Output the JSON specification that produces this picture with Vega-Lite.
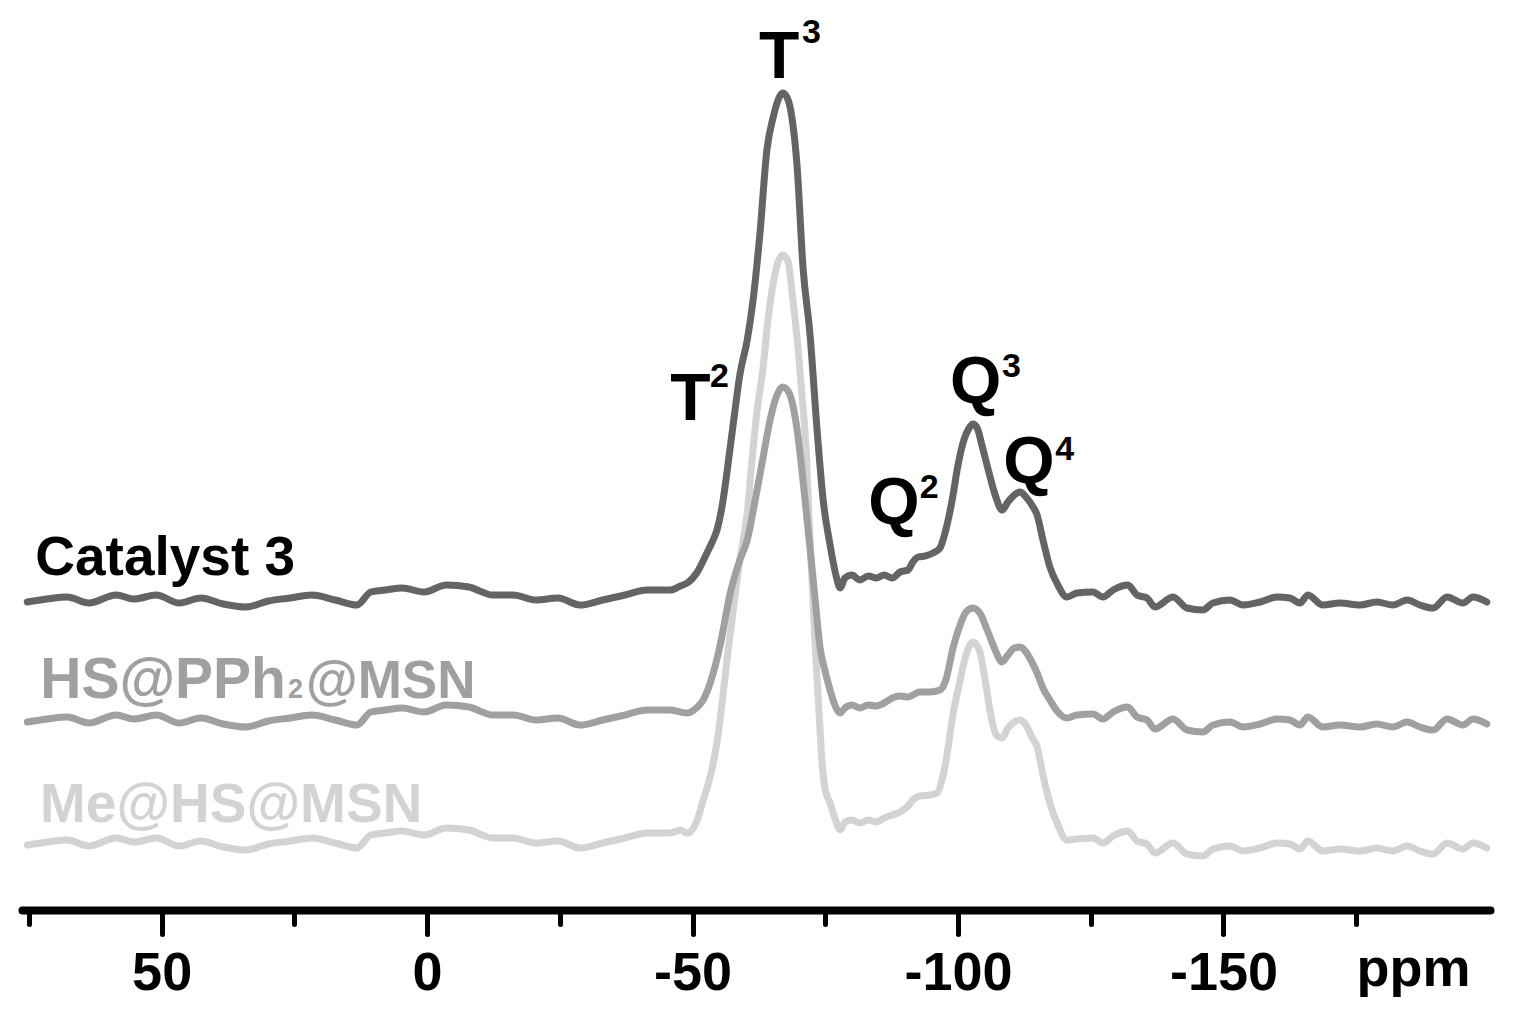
{
  "$schema": "https://vega.github.io/schema/vega-lite/v6.json",
  "width": 1468,
  "height": 910,
  "autosize": {"type": "none"},
  "padding": {"left": 22, "top": 0, "right": 24, "bottom": 122},
  "background": "white",
  "config": {"view": {"stroke": null}, "font": "Liberation Sans"},
  "datasets": {
    "cat": [
      {"ppm":75.3,"intensity":308},{"ppm":71.6,"intensity":311},{"ppm":67.8,"intensity":313},{"ppm":63.7,"intensity":307},{"ppm":58.6,"intensity":315},{"ppm":55.2,"intensity":311},{"ppm":51.0,"intensity":315},{"ppm":46.7,"intensity":307},{"ppm":42.6,"intensity":312},{"ppm":38.4,"intensity":306},{"ppm":34.1,"intensity":303},{"ppm":29.9,"intensity":309},{"ppm":25.8,"intensity":312},{"ppm":21.7,"intensity":315},{"ppm":17.3,"intensity":310},{"ppm":13.2,"intensity":305},{"ppm":10.6,"intensity":318},{"ppm":7.9,"intensity":320},{"ppm":4.7,"intensity":322},{"ppm":0.6,"intensity":318},{"ppm":-3.6,"intensity":325},{"ppm":-7.9,"intensity":323},{"ppm":-10.4,"intensity":318},{"ppm":-12.1,"intensity":315},{"ppm":-16.2,"intensity":315},{"ppm":-20.5,"intensity":310},{"ppm":-24.7,"intensity":312},{"ppm":-28.8,"intensity":305},{"ppm":-33.1,"intensity":310},{"ppm":-37.3,"intensity":315},{"ppm":-41.4,"intensity":320},{"ppm":-45.8,"intensity":320},
      {"ppm":-47.7,"intensity":324},{"ppm":-49.0,"intensity":327},{"ppm":-50.9,"intensity":338},{"ppm":-52.7,"intensity":357},{"ppm":-53.7,"intensity":368},{"ppm":-54.6,"intensity":380},{"ppm":-55.6,"intensity":405},{"ppm":-57.1,"intensity":463},{"ppm":-58.0,"intensity":500},{"ppm":-58.9,"intensity":535},{"ppm":-60.3,"intensity":570},{"ppm":-61.4,"intensity":610},{"ppm":-62.7,"intensity":677},{"ppm":-64.0,"intensity":760},{"ppm":-65.2,"intensity":793},{"ppm":-66.1,"intensity":810},{"ppm":-67.0,"intensity":817},{"ppm":-68.0,"intensity":810},{"ppm":-68.7,"intensity":793},{"ppm":-69.7,"intensity":743},{"ppm":-70.8,"intensity":643},{"ppm":-72.1,"intensity":577},{"ppm":-73.5,"intensity":477},{"ppm":-74.6,"intensity":410},{"ppm":-75.9,"intensity":365},{"ppm":-77.0,"intensity":335},{"ppm":-77.8,"intensity":322},{"ppm":-78.7,"intensity":332},{"ppm":-80.0,"intensity":335},{"ppm":-81.5,"intensity":330},{"ppm":-83.1,"intensity":334},{"ppm":-84.6,"intensity":332},{"ppm":-86.1,"intensity":335},{"ppm":-87.6,"intensity":332},{"ppm":-89.1,"intensity":338},{"ppm":-90.6,"intensity":340},{"ppm":-91.5,"intensity":348},{"ppm":-92.5,"intensity":353},{"ppm":-93.8,"intensity":354},{"ppm":-95.3,"intensity":357},{"ppm":-96.6,"intensity":362},{"ppm":-97.7,"intensity":380},{"ppm":-98.9,"intensity":410},{"ppm":-100.0,"intensity":445},{"ppm":-101.1,"intensity":470},{"ppm":-102.1,"intensity":482},{"ppm":-102.8,"intensity":486},{"ppm":-103.6,"intensity":482},{"ppm":-104.5,"intensity":465},{"ppm":-105.7,"intensity":440},{"ppm":-107.0,"intensity":415},{"ppm":-108.3,"intensity":400},{"ppm":-109.4,"intensity":408},{"ppm":-110.6,"intensity":415},{"ppm":-111.7,"intensity":418},{"ppm":-112.8,"intensity":413},{"ppm":-113.9,"intensity":405},{"ppm":-114.9,"intensity":395},{"ppm":-116.0,"intensity":370},{"ppm":-117.3,"intensity":343},{"ppm":-118.8,"intensity":325},{"ppm":-120.5,"intensity":313},
      {"ppm":-122.4,"intensity":317},{"ppm":-125.4,"intensity":318},{"ppm":-127.3,"intensity":313},{"ppm":-129.2,"intensity":320},{"ppm":-132.0,"intensity":325},{"ppm":-133.7,"intensity":315},{"ppm":-135.6,"intensity":312},{"ppm":-137.1,"intensity":303},{"ppm":-140.5,"intensity":313},{"ppm":-143.1,"intensity":302},{"ppm":-146.1,"intensity":300},{"ppm":-148.0,"intensity":307},{"ppm":-151.2,"intensity":310},{"ppm":-153.7,"intensity":305},{"ppm":-156.9,"intensity":308},{"ppm":-160.1,"intensity":313},{"ppm":-162.5,"intensity":312},{"ppm":-164.4,"intensity":307},{"ppm":-165.9,"intensity":315},{"ppm":-168.7,"intensity":305},{"ppm":-171.9,"intensity":307},{"ppm":-175.7,"intensity":305},{"ppm":-178.9,"intensity":308},{"ppm":-181.9,"intensity":305},{"ppm":-184.6,"intensity":310},{"ppm":-187.0,"intensity":305},{"ppm":-189.5,"intensity":302},{"ppm":-192.1,"intensity":313},{"ppm":-195.1,"intensity":307},{"ppm":-197.0,"intensity":313},{"ppm":-199.6,"intensity":308}
    ],
    "hs": [
      {"ppm":75.3,"intensity":188},{"ppm":71.6,"intensity":191},{"ppm":67.8,"intensity":193},{"ppm":63.7,"intensity":187},{"ppm":58.6,"intensity":195},{"ppm":55.2,"intensity":191},{"ppm":51.0,"intensity":195},{"ppm":46.7,"intensity":187},{"ppm":42.6,"intensity":192},{"ppm":38.4,"intensity":186},{"ppm":34.1,"intensity":183},{"ppm":29.9,"intensity":189},{"ppm":25.8,"intensity":192},{"ppm":21.7,"intensity":195},{"ppm":17.3,"intensity":190},{"ppm":13.2,"intensity":185},{"ppm":10.6,"intensity":198},{"ppm":7.9,"intensity":200},{"ppm":4.7,"intensity":202},{"ppm":0.6,"intensity":198},{"ppm":-3.6,"intensity":205},{"ppm":-7.9,"intensity":203},{"ppm":-10.4,"intensity":198},{"ppm":-12.1,"intensity":195},{"ppm":-16.2,"intensity":195},{"ppm":-20.5,"intensity":190},{"ppm":-24.7,"intensity":192},{"ppm":-28.8,"intensity":185},{"ppm":-33.1,"intensity":190},{"ppm":-37.3,"intensity":195},{"ppm":-41.4,"intensity":200},{"ppm":-45.8,"intensity":200},
      {"ppm":-47.7,"intensity":198},{"ppm":-49.0,"intensity":197},{"ppm":-50.9,"intensity":203},{"ppm":-52.0,"intensity":210},{"ppm":-53.9,"intensity":237},{"ppm":-55.2,"intensity":265},{"ppm":-57.1,"intensity":317},{"ppm":-58.9,"intensity":350},{"ppm":-60.3,"intensity":370},{"ppm":-61.8,"intensity":410},{"ppm":-63.3,"intensity":453},{"ppm":-64.6,"intensity":490},{"ppm":-65.9,"intensity":515},{"ppm":-67.0,"intensity":523},{"ppm":-68.2,"intensity":517},{"ppm":-69.7,"intensity":480},{"ppm":-70.8,"intensity":430},{"ppm":-72.1,"intensity":363},{"ppm":-73.1,"intensity":310},{"ppm":-74.0,"intensity":263},{"ppm":-75.0,"intensity":238},{"ppm":-75.9,"intensity":220},{"ppm":-76.8,"intensity":205},{"ppm":-77.8,"intensity":197},{"ppm":-78.7,"intensity":202},{"ppm":-80.0,"intensity":205},{"ppm":-81.5,"intensity":202},{"ppm":-83.1,"intensity":205},{"ppm":-84.6,"intensity":204},{"ppm":-86.1,"intensity":207},{"ppm":-87.6,"intensity":212},{"ppm":-89.1,"intensity":214},{"ppm":-90.6,"intensity":213},{"ppm":-91.5,"intensity":215},{"ppm":-92.8,"intensity":218},{"ppm":-94.7,"intensity":218},{"ppm":-96.6,"intensity":220},{"ppm":-97.7,"intensity":230},{"ppm":-99.1,"intensity":263},{"ppm":-100.4,"intensity":285},{"ppm":-101.5,"intensity":298},{"ppm":-102.8,"intensity":302},{"ppm":-104.1,"intensity":297},{"ppm":-105.5,"intensity":280},{"ppm":-107.0,"intensity":260},{"ppm":-108.3,"intensity":248},{"ppm":-109.4,"intensity":255},{"ppm":-110.6,"intensity":262},{"ppm":-111.7,"intensity":263},{"ppm":-112.8,"intensity":258},{"ppm":-113.9,"intensity":248},{"ppm":-114.9,"intensity":237},{"ppm":-116.0,"intensity":222},{"ppm":-117.3,"intensity":210},{"ppm":-118.8,"intensity":198},{"ppm":-120.5,"intensity":192},
      {"ppm":-122.4,"intensity":195},{"ppm":-125.4,"intensity":196},{"ppm":-127.3,"intensity":191},{"ppm":-129.2,"intensity":198},{"ppm":-132.0,"intensity":203},{"ppm":-133.7,"intensity":193},{"ppm":-135.6,"intensity":190},{"ppm":-137.1,"intensity":181},{"ppm":-140.5,"intensity":191},{"ppm":-143.1,"intensity":180},{"ppm":-146.1,"intensity":178},{"ppm":-148.0,"intensity":185},{"ppm":-151.2,"intensity":188},{"ppm":-153.7,"intensity":183},{"ppm":-156.9,"intensity":186},{"ppm":-160.1,"intensity":191},{"ppm":-162.5,"intensity":190},{"ppm":-164.4,"intensity":185},{"ppm":-165.9,"intensity":193},{"ppm":-168.7,"intensity":183},{"ppm":-171.9,"intensity":185},{"ppm":-175.7,"intensity":183},{"ppm":-178.9,"intensity":186},{"ppm":-181.9,"intensity":183},{"ppm":-184.6,"intensity":188},{"ppm":-187.0,"intensity":183},{"ppm":-189.5,"intensity":180},{"ppm":-192.1,"intensity":191},{"ppm":-195.1,"intensity":185},{"ppm":-197.0,"intensity":191},{"ppm":-199.6,"intensity":186}
    ],
    "me": [
      {"ppm":75.3,"intensity":65},{"ppm":71.6,"intensity":68},{"ppm":67.8,"intensity":70},{"ppm":63.7,"intensity":64},{"ppm":58.6,"intensity":72},{"ppm":55.2,"intensity":68},{"ppm":51.0,"intensity":72},{"ppm":46.7,"intensity":64},{"ppm":42.6,"intensity":69},{"ppm":38.4,"intensity":63},{"ppm":34.1,"intensity":60},{"ppm":29.9,"intensity":66},{"ppm":25.8,"intensity":69},{"ppm":21.7,"intensity":72},{"ppm":17.3,"intensity":67},{"ppm":13.2,"intensity":62},{"ppm":10.6,"intensity":75},{"ppm":7.9,"intensity":77},{"ppm":4.7,"intensity":79},{"ppm":0.6,"intensity":75},{"ppm":-3.6,"intensity":82},{"ppm":-7.9,"intensity":80},{"ppm":-10.4,"intensity":75},{"ppm":-12.1,"intensity":72},{"ppm":-16.2,"intensity":72},{"ppm":-20.5,"intensity":67},{"ppm":-24.7,"intensity":69},{"ppm":-28.8,"intensity":62},{"ppm":-33.1,"intensity":67},{"ppm":-37.3,"intensity":72},{"ppm":-41.4,"intensity":77},{"ppm":-45.8,"intensity":77},
      {"ppm":-47.7,"intensity":80},{"ppm":-49.0,"intensity":77},{"ppm":-50.9,"intensity":90},{"ppm":-52.0,"intensity":110},{"ppm":-52.9,"intensity":125},{"ppm":-53.9,"intensity":147},{"ppm":-54.8,"intensity":175},{"ppm":-55.7,"intensity":213},{"ppm":-56.7,"intensity":260},{"ppm":-57.6,"intensity":297},{"ppm":-58.9,"intensity":350},{"ppm":-60.3,"intensity":397},{"ppm":-61.2,"intensity":450},{"ppm":-62.1,"intensity":497},{"ppm":-63.3,"intensity":543},{"ppm":-64.2,"intensity":590},{"ppm":-65.2,"intensity":627},{"ppm":-66.1,"intensity":648},{"ppm":-67.0,"intensity":655},{"ppm":-68.0,"intensity":648},{"ppm":-68.9,"intensity":610},{"ppm":-69.9,"intensity":560},{"ppm":-70.6,"intensity":515},{"ppm":-71.4,"intensity":460},{"ppm":-71.9,"intensity":397},{"ppm":-72.5,"intensity":330},{"ppm":-73.1,"intensity":263},{"ppm":-73.8,"intensity":200},{"ppm":-74.4,"intensity":147},{"ppm":-75.0,"intensity":120},{"ppm":-75.9,"intensity":107},{"ppm":-76.8,"intensity":92},{"ppm":-77.8,"intensity":80},{"ppm":-78.7,"intensity":88},{"ppm":-80.0,"intensity":90},{"ppm":-81.5,"intensity":87},{"ppm":-83.1,"intensity":90},{"ppm":-84.6,"intensity":88},{"ppm":-86.1,"intensity":92},{"ppm":-87.6,"intensity":95},{"ppm":-89.1,"intensity":98},{"ppm":-90.6,"intensity":104},{"ppm":-91.5,"intensity":110},{"ppm":-92.8,"intensity":114},{"ppm":-94.7,"intensity":115},{"ppm":-96.0,"intensity":117},{"ppm":-97.6,"intensity":145},{"ppm":-99.1,"intensity":197},{"ppm":-100.4,"intensity":230},{"ppm":-101.5,"intensity":255},{"ppm":-102.8,"intensity":268},{"ppm":-104.0,"intensity":260},{"ppm":-105.1,"intensity":230},{"ppm":-106.0,"intensity":200},{"ppm":-107.2,"intensity":175},{"ppm":-108.3,"intensity":172},{"ppm":-109.4,"intensity":182},{"ppm":-110.6,"intensity":188},{"ppm":-111.7,"intensity":190},{"ppm":-112.8,"intensity":185},{"ppm":-113.9,"intensity":173},{"ppm":-114.9,"intensity":163},{"ppm":-116.0,"intensity":135},{"ppm":-117.3,"intensity":107},{"ppm":-118.8,"intensity":85},{"ppm":-120.5,"intensity":70},
      {"ppm":-122.4,"intensity":71},{"ppm":-125.4,"intensity":72},{"ppm":-127.3,"intensity":67},{"ppm":-129.2,"intensity":74},{"ppm":-132.0,"intensity":79},{"ppm":-133.7,"intensity":69},{"ppm":-135.6,"intensity":66},{"ppm":-137.1,"intensity":57},{"ppm":-140.5,"intensity":67},{"ppm":-143.1,"intensity":56},{"ppm":-146.1,"intensity":54},{"ppm":-148.0,"intensity":61},{"ppm":-151.2,"intensity":64},{"ppm":-153.7,"intensity":59},{"ppm":-156.9,"intensity":62},{"ppm":-160.1,"intensity":67},{"ppm":-162.5,"intensity":66},{"ppm":-164.4,"intensity":61},{"ppm":-165.9,"intensity":69},{"ppm":-168.7,"intensity":59},{"ppm":-171.9,"intensity":61},{"ppm":-175.7,"intensity":59},{"ppm":-178.9,"intensity":62},{"ppm":-181.9,"intensity":59},{"ppm":-184.6,"intensity":64},{"ppm":-187.0,"intensity":59},{"ppm":-189.5,"intensity":56},{"ppm":-192.1,"intensity":67},{"ppm":-195.1,"intensity":61},{"ppm":-197.0,"intensity":67},{"ppm":-199.6,"intensity":62}
    ]
  },
  "encoding": {
    "x": {
      "field": "ppm", "type": "quantitative",
      "scale": {"domain": [-200.2, 76.3], "reverse": true, "nice": false, "zero": false},
      "axis": {
        "values": [75, 50, 25, 0, -25, -50, -75, -100, -125, -150, -175],
        "labelExpr": "datum.value % 50 === 0 ? '' + datum.value : ''",
        "tickSize": {"condition": {"test": "datum.value % 50 === 0", "value": 24}, "value": 14},
        "tickWidth": 5, "tickColor": "black", "tickCap": "round",
        "domainWidth": 8, "domainColor": "black", "domainCap": "round",
        "labelFont": "Liberation Sans", "labelFontSize": 54, "labelFontWeight": "bold", "labelColor": "black",
        "labelPadding": 12, "labelBaseline": "top", "labelFlush": false, "labelOverlap": false,
        "grid": false,
        "title": "ppm", "titleFont": "Liberation Sans", "titleFontSize": 54, "titleFontWeight": "bold", "titleColor": "black",
        "titleX": 1391, "titleY": 75, "titleAlign": "center", "titleBaseline": "alphabetic"
      }
    },
    "y": {
      "field": "intensity", "type": "quantitative",
      "scale": {"domain": [0, 910], "nice": false, "zero": false},
      "axis": null
    }
  },
  "layer": [
    {"data": {"name": "me"}, "mark": {"type": "line", "color": "#d3d3d3", "strokeWidth": 7, "interpolate": "monotone", "strokeJoin": "round", "strokeCap": "round"}, "encoding": {}},
    {"data": {"name": "hs"}, "mark": {"type": "line", "color": "#a0a0a0", "strokeWidth": 7, "interpolate": "monotone", "strokeJoin": "round", "strokeCap": "round"}, "encoding": {}},
    {"data": {"name": "cat"}, "mark": {"type": "line", "color": "#646464", "strokeWidth": 7, "interpolate": "monotone", "strokeJoin": "round", "strokeCap": "round"}, "encoding": {}},
    {
      "data": {"values": [
        {"ppm": -62.5, "intensity": 832, "t": "T"},
        {"ppm": -45.8, "intensity": 490, "t": "T"},
        {"ppm": -98.5, "intensity": 507, "t": "Q"},
        {"ppm": -83.1, "intensity": 386, "t": "Q"},
        {"ppm": -108.5, "intensity": 427, "t": "Q"}
      ]},
      "mark": {"type": "text", "align": "left", "baseline": "alphabetic", "font": "Liberation Sans", "fontWeight": "bold", "fontSize": 66, "color": "black"},
      "encoding": {"text": {"field": "t"}}
    },
    {
      "data": {"values": [
        {"ppm": -70.6, "intensity": 867, "t": "3"},
        {"ppm": -53.3, "intensity": 523, "t": "2"},
        {"ppm": -108.3, "intensity": 533, "t": "3"},
        {"ppm": -92.8, "intensity": 412, "t": "2"},
        {"ppm": -118.3, "intensity": 450, "t": "4"}
      ]},
      "mark": {"type": "text", "align": "left", "baseline": "alphabetic", "font": "Liberation Sans", "fontWeight": "bold", "fontSize": 34, "color": "black"},
      "encoding": {"text": {"field": "t"}}
    },
    {
      "data": {"values": [{"ppm": 73.8, "intensity": 335, "t": "Catalyst 3"}]},
      "mark": {"type": "text", "align": "left", "baseline": "alphabetic", "font": "Liberation Sans", "fontWeight": "bold", "fontSize": 55, "color": "black"},
      "encoding": {"text": {"field": "t"}}
    },
    {
      "data": {"values": [{"ppm": 26.6, "intensity": 212, "t": "HS@PPh"}]},
      "mark": {"type": "text", "align": "right", "baseline": "alphabetic", "font": "Liberation Sans", "fontWeight": "bold", "fontSize": 57, "color": "#a0a0a0"},
      "encoding": {"text": {"field": "t"}}
    },
    {
      "data": {"values": [{"ppm": 26.2, "intensity": 212, "t": "2"}]},
      "mark": {"type": "text", "align": "left", "baseline": "alphabetic", "font": "Liberation Sans", "fontWeight": "bold", "fontSize": 27, "color": "#a0a0a0"},
      "encoding": {"text": {"field": "t"}}
    },
    {
      "data": {"values": [{"ppm": 22.8, "intensity": 212, "t": "@MSN"}]},
      "mark": {"type": "text", "align": "left", "baseline": "alphabetic", "font": "Liberation Sans", "fontWeight": "bold", "fontSize": 53, "color": "#a0a0a0"},
      "encoding": {"text": {"field": "t"}}
    },
    {
      "data": {"values": [{"ppm": 72.9, "intensity": 88, "t": "Me@HS@MSN"}]},
      "mark": {"type": "text", "align": "left", "baseline": "alphabetic", "font": "Liberation Sans", "fontWeight": "bold", "fontSize": 55, "color": "#d3d3d3"},
      "encoding": {"text": {"field": "t"}}
    }
  ]
}
